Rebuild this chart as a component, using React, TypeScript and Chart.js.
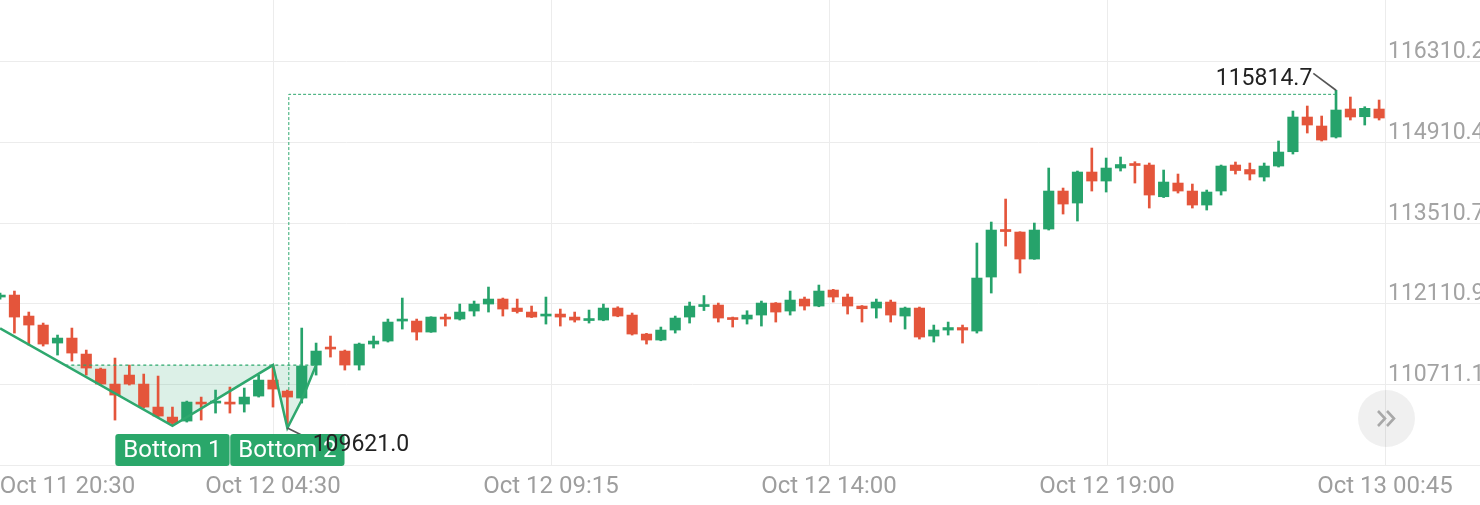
import React, { useEffect, useRef } from 'react';
import { Chart, registerables } from 'chart.js';

Chart.register(...registerables);

// ---- candle data (15-minute candles, left to right) ----
const opens = [
  112226.0, 112260.7, 111896.2, 111740.0, 111427.6, 111514.3, 111236.6, 110976.3, 110715.9, 110872.1,
  110715.9, 110316.7, 110143.1, 110073.7, 110403.5, 110386.1, 110403.5, 110368.8, 110507.6, 110785.3,
  110594.4, 110472.9, 111045.7, 111358.1, 111288.7, 111045.7, 111410.2, 111462.3, 111809.4, 111809.4,
  111618.5, 111878.8, 111844.1, 111983.0, 112104.5, 112191.3, 112035.0, 111965.6, 111896.2, 111930.9,
  111878.8, 111818.1, 111826.8, 112035.0, 111913.5, 111583.8, 111479.6, 111653.2, 111878.8, 112061.1,
  112087.1, 111870.2, 111844.1, 111913.5, 112121.8, 111983.0, 112191.3, 112069.8, 112347.5, 112226.0,
  112069.8, 112035.0, 112139.2, 111896.2, 112035.0, 111549.0, 111653.2, 111696.6, 111635.8, 112573.1,
  113397.6, 113354.2, 112885.5, 113406.3, 114065.8, 113857.5, 114395.6, 114239.4, 114465.0, 114534.5,
  114517.1, 113966.9, 114204.7, 114065.8, 113822.8, 114065.8, 114517.1, 114439.0, 114308.8, 114499.7,
  114747.9, 115350.2, 115194.0, 115003.1, 115489.1, 115355.4, 115489.1,
];
const highs = [
  112295.4, 112330.1, 111965.6, 111774.7, 111566.4, 111687.9, 111306.1, 110993.6, 111167.2, 111045.7,
  110889.5, 110854.8, 110316.7, 110420.8, 110490.3, 110611.8, 110663.8, 110646.5, 110872.1, 111045.7,
  110611.8, 111687.9, 111427.6, 111549.0, 111306.1, 111427.6, 111549.0, 111844.1, 112208.6, 111844.1,
  111884.0, 111930.9, 112104.5, 112156.5, 112399.5, 112208.6, 112191.3, 112069.8, 112226.0, 112017.7,
  111965.6, 112000.3, 112104.5, 112057.6, 111948.3, 111595.9, 111705.3, 111896.2, 112139.2, 112252.0,
  112121.8, 111878.8, 111988.2, 112156.5, 112130.5, 112330.1, 112226.0, 112434.3, 112359.6, 112278.0,
  112078.4, 112191.3, 112173.9, 112052.4, 112052.4, 111740.0, 111792.1, 111740.0, 113163.3, 113527.8,
  113927.0, 113359.4, 113510.4, 114465.0, 114117.9, 114413.0, 114812.2, 114638.6, 114656.0, 114574.4,
  114551.8, 114430.3, 114360.9, 114187.3, 114083.2, 114517.1, 114569.2, 114551.8, 114551.8, 114933.7,
  115454.4, 115541.2, 115367.6, 115814.7, 115697.4, 115529.0, 115645.3,
];
const lows = [
  112191.3, 111601.1, 111392.8, 111375.5, 111219.3, 111115.1, 110872.1, 110698.6, 110091.1, 110698.6,
  110299.3, 110143.1, 110004.3, 110056.4, 110091.1, 110212.6, 110212.6, 110229.9, 110490.3, 110316.7,
  109952.2, 110386.1, 110872.1, 111184.6, 110958.9, 110958.9, 111340.8, 111444.9, 111670.6, 111479.6,
  111613.3, 111722.6, 111826.8, 111896.2, 111965.6, 111896.2, 111948.3, 111870.2, 111757.3, 111722.6,
  111792.1, 111774.7, 111814.6, 111884.0, 111566.4, 111410.2, 111467.5, 111601.1, 111774.7, 111991.7,
  111792.1, 111705.3, 111757.3, 111722.6, 111792.1, 111913.5, 112000.3, 112057.6, 112139.2, 111930.9,
  111792.1, 111861.5, 111792.1, 111670.6, 111497.0, 111444.9, 111566.4, 111427.6, 111601.1, 112295.4,
  113111.2, 112642.5, 112880.3, 113388.9, 113666.6, 113545.1, 114065.8, 114048.5, 114413.0, 114204.7,
  113770.7, 113953.0, 114031.1, 113770.7, 113736.0, 113996.4, 114360.9, 114256.7, 114239.4, 114482.4,
  114708.0, 115072.5, 114933.7, 114985.7, 115298.2, 115211.4, 115298.2,
];
const closes = [
  112260.7, 111878.8, 111740.0, 111410.2, 111514.3, 111254.0, 110993.6, 110715.9, 110525.0, 110715.9,
  110316.7, 110160.5, 110039.0, 110403.5, 110368.8, 110420.8, 110368.8, 110490.3, 110785.3, 110629.1,
  110490.3, 111028.3, 111288.7, 111323.4, 111045.7, 111410.2, 111462.3, 111792.1, 111835.4, 111618.5,
  111878.8, 111844.1, 111965.6, 112104.5, 112191.3, 112017.7, 111974.3, 111878.8, 111930.9, 111878.8,
  111826.8, 111844.1, 112035.0, 111896.2, 111583.8, 111479.6, 111653.2, 111861.5, 112069.8, 112087.1,
  111861.5, 111835.4, 111913.5, 112121.8, 111965.6, 112173.9, 112069.8, 112330.1, 112226.0, 112069.8,
  112022.9, 112139.2, 111913.5, 112035.0, 111531.7, 111653.2, 111696.6, 111653.2, 112555.8, 113388.9,
  113362.9, 112885.5, 113388.9, 114065.8, 113840.2, 114395.6, 114239.4, 114465.0, 114525.8, 114508.4,
  113996.4, 114222.0, 114065.8, 113822.8, 114048.5, 114499.7, 114421.6, 114360.9, 114499.7, 114742.7,
  115350.2, 115211.4, 114951.0, 115471.7, 115350.2, 115501.2, 115332.9,
];

// ---- axes ----
const xTickIndex = [4.69, 19, 38.353, 57.705, 77.058, 96.41];
const xTickLabels = ['Oct 11 20:30', 'Oct 12 04:30', 'Oct 12 09:15', 'Oct 12 14:00', 'Oct 12 19:00', 'Oct 13 00:45'];
const yTickValues = [109311.3, 110711.1, 112110.9, 113510.7, 114910.4, 116310.2];
const yTickLabels = ['', '110711.1', '112110.9', '113510.7', '114910.4', '116310.2'];

// ---- double-bottom pattern annotation ----
const wLineIndex = [0, 12, 19, 20, 21, 22];
const wLinePrice = [111682.7, 109992.1, 111045.7, 109952.2, 110438.2, 111045.7];
const fillIndex = [4.54, 12, 19, 20, 21, 22];
const fillPrice = [111045.7, 109992.1, 111045.7, 109952.2, 110438.2, 111045.7];
const neckIndex = [4.54, 22.1];
const neckPrice = [111045.7, 111045.7];
const targetIndex = [20.1, 20.1, 93];
const targetPrice = [110611.8, 115744.0, 115744.0];
const lowLeaderIndex = [20, 21.69];
const lowLeaderPrice = [109952.2, 109745.3];
const highLeaderIndex = [93, 91.42];
const highLeaderPrice = [115814.7, 116109.0];
const bottomIndex = [12, 20];
const bottomPrice = [109992.1, 109952.2];
const bottomLabels = ['Bottom 1', 'Bottom 2'];
const lowLabel = '109621.0';
const highLabel = '115814.7';

const GREEN = '#26a36b';
const RED = '#e4553b';
const GRID = '#ececec';
const LINE_GREEN = '#2ea86e';

const pts = (xs: number[], ys: number[]) => xs.map((x, i) => ({ x, y: ys[i] }));

const labelPlugin = {
  id: 'patternLabels',
  afterDatasetsDraw(chart: any) {
    const { ctx, scales } = chart;
    const x = scales.x;
    const y = scales.y;
    ctx.save();
    // Bottom boxes
    const boxTop = Math.max(...bottomPrice.map((p) => y.getPixelForValue(p))) + 6;
    ctx.font = '24px Roboto';
    bottomLabels.forEach((label, k) => {
      const cx = x.getPixelForValue(bottomIndex[k]);
      const w = ctx.measureText(label).width + 16;
      ctx.fillStyle = '#2aa76a';
      ctx.beginPath();
      (ctx as any).roundRect(cx - w / 2, boxTop, w, 32, 3);
      ctx.fill();
      ctx.fillStyle = '#ffffff';
      ctx.textAlign = 'center';
      ctx.textBaseline = 'middle';
      ctx.fillText(label, cx, boxTop + 17);
    });
    // price labels
    ctx.font = '23px Roboto';
    ctx.fillStyle = '#222222';
    ctx.textBaseline = 'middle';
    const lx = x.getPixelForValue(lowLeaderIndex[1]);
    const ly = y.getPixelForValue(lowLeaderPrice[1]);
    ctx.textAlign = 'left';
    ctx.fillText(lowLabel, lx + 1, ly + 5);
    const hx = x.getPixelForValue(highLeaderIndex[1]);
    const hy = y.getPixelForValue(highLeaderPrice[1]);
    ctx.textAlign = 'right';
    ctx.fillText(highLabel, hx - 1, hy + 6);
    ctx.restore();
  },
};

export default function App() {
  const canvasRef = useRef<HTMLCanvasElement | null>(null);

  useEffect(() => {
    document.body.style.margin = '0';
    const canvas = canvasRef.current;
    if (!canvas) return;
    Chart.defaults.font.family = 'Roboto';
    const n = opens.length;
    const idx = Array.from({ length: n }, (_, i) => i);
    const colors = idx.map((i) => (closes[i] >= opens[i] ? GREEN : RED));

    const chart = new Chart(canvas, {
      type: 'bar',
      data: {
        datasets: [
          {
            type: 'line',
            data: pts(fillIndex, fillPrice),
            borderWidth: 0,
            pointRadius: 0,
            fill: { value: neckPrice[0] },
            backgroundColor: 'rgba(46,168,110,0.17)',
            borderColor: 'rgba(0,0,0,0)',
            order: 10,
          } as any,
          {
            type: 'bar',
            data: idx.map((i) => ({ x: i, y: [lows[i], highs[i]] })),
            backgroundColor: colors,
            barThickness: 2,
            minBarLength: 1,
            grouped: false,
            borderWidth: 0,
            borderSkipped: false,
            order: 9,
          } as any,
          {
            type: 'bar',
            data: idx.map((i) => ({ x: i, y: [opens[i], closes[i]] })),
            backgroundColor: colors,
            barThickness: 10.5,
            minBarLength: 2,
            grouped: false,
            borderWidth: 0,
            borderSkipped: false,
            order: 8,
          } as any,
          {
            type: 'line',
            data: pts(neckIndex, neckPrice),
            borderColor: LINE_GREEN,
            borderWidth: 1.3,
            borderDash: [3, 3],
            pointRadius: 0,
            fill: false,
            order: 5,
          } as any,
          {
            type: 'line',
            data: pts(targetIndex, targetPrice),
            borderColor: LINE_GREEN,
            borderWidth: 1,
            borderDash: [3, 2],
            pointRadius: 0,
            fill: false,
            order: 5,
          } as any,
          {
            type: 'line',
            data: pts(wLineIndex, wLinePrice),
            borderColor: LINE_GREEN,
            borderWidth: 2.5,
            pointRadius: 0,
            fill: false,
            order: 3,
          } as any,
          {
            type: 'line',
            data: pts(lowLeaderIndex, lowLeaderPrice),
            borderColor: '#555555',
            borderWidth: 1.6,
            pointRadius: 0,
            fill: false,
            order: 1,
          } as any,
          {
            type: 'line',
            data: pts(highLeaderIndex, highLeaderPrice),
            borderColor: '#555555',
            borderWidth: 1.6,
            pointRadius: 0,
            fill: false,
            order: 1,
          } as any,
        ],
      },
      options: {
        responsive: false,
        animation: false,
        events: [],
        layout: { padding: 0, autoPadding: false } as any,
        plugins: {
          legend: { display: false },
          tooltip: { enabled: false },
        },
        scales: {
          x: {
            type: 'linear',
            min: -0.005,
            max: 96.41,
            offset: false,
            afterBuildTicks: (s: any) => {
              s.ticks = xTickIndex.map((v) => ({ value: v }));
            },
            afterFit: (s: any) => {
              s.height = 40;
              s.paddingLeft = 0;
              s.paddingRight = 0;
            },
            grid: {
              offset: false,
              drawTicks: false,
              color: (c: any) => (c.index === 0 ? 'rgba(0,0,0,0)' : GRID),
            },
            border: { display: true, color: GRID },
            ticks: {
              autoSkip: false,
              maxRotation: 0,
              padding: 8,
              color: '#9e9e9e',
              font: { size: 24 },
              callback: (_v: any, i: number) => xTickLabels[i],
            },
          },
          y: {
            type: 'linear',
            position: 'right',
            min: 109311.3,
            max: 117381.1,
            afterBuildTicks: (s: any) => {
              s.ticks = yTickValues.map((v) => ({ value: v }));
            },
            afterFit: (s: any) => {
              s.width = 115;
              s.paddingTop = 0;
              s.paddingBottom = 0;
            },
            grid: { color: GRID, drawTicks: true, tickLength: 115 },
            border: { display: true, color: GRID },
            ticks: {
              padding: -112,
              labelOffset: -9,
              color: '#a3a3a3',
              font: { size: 23 },
              callback: (_v: any, i: number) => yTickLabels[i],
            },
          },
        },
      } as any,
      plugins: [labelPlugin],
    });
    return () => chart.destroy();
  }, []);

  return (
    <div style={{ position: 'relative', width: 1480, height: 505, overflow: 'hidden', background: '#fff' }}>
      <canvas ref={canvasRef} width={1500} height={505} style={{ display: 'block' }} />
      <div
        style={{
          position: 'absolute',
          left: 1358,
          top: 390,
          width: 57,
          height: 57,
          borderRadius: '50%',
          background: 'rgba(0,0,0,0.06)',
        }}
      >
        <svg width="57" height="57" viewBox="0 0 57 57">
          <polyline points="20,21 27,28.5 20,36" fill="none" stroke="#a8a8a8" strokeWidth="2.6" />
          <polyline points="29,21 36,28.5 29,36" fill="none" stroke="#a8a8a8" strokeWidth="2.6" />
        </svg>
      </div>
    </div>
  );
}
